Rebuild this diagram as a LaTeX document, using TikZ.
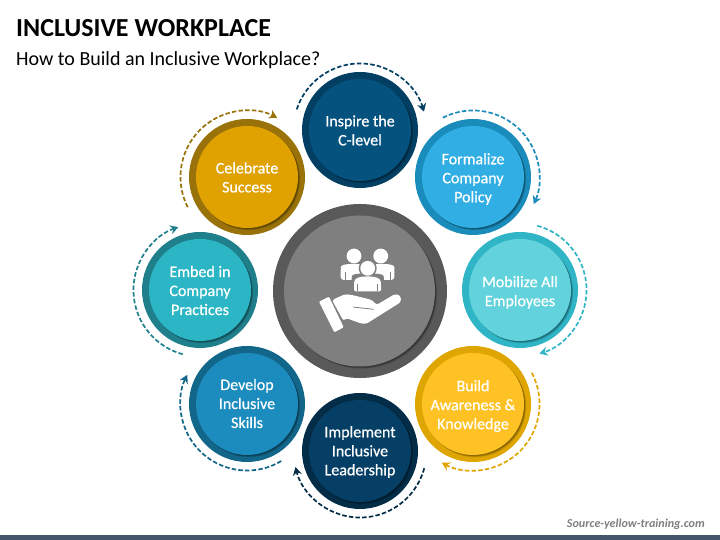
\documentclass[tikz,border=0pt]{standalone}
\usepackage{fontspec}
\setmainfont{Carlito}
\newfontfamily\facefont[FakeBold=0.6]{Carlito}
\usetikzlibrary{arrows.meta}
\definecolor{cInspR}{HTML}{033F62}\definecolor{cInspF}{HTML}{05527F}
\definecolor{cFormR}{HTML}{1A8CBB}\definecolor{cFormF}{HTML}{31AEE4}
\definecolor{cMobR}{HTML}{2FB5C5}\definecolor{cMobF}{HTML}{62D2DC}
\definecolor{cBuildR}{HTML}{DFA500}\definecolor{cBuildF}{HTML}{FFC225}
\definecolor{cImpR}{HTML}{032C47}\definecolor{cImpF}{HTML}{063F66}
\definecolor{cDevR}{HTML}{12668A}\definecolor{cDevF}{HTML}{1B8CBD}
\definecolor{cEmbR}{HTML}{1F808C}\definecolor{cEmbF}{HTML}{2CB6C5}
\definecolor{cCelR}{HTML}{99720A}\definecolor{cCelF}{HTML}{DFA200}
\definecolor{cMidR}{HTML}{595959}\definecolor{cMidF}{HTML}{7F7F7F}
\definecolor{cBar}{HTML}{44546A}
\tikzset{
  x=1pt,y=1pt,
  ringdisc/.style={circle,inner sep=0pt,minimum size=116pt},
  facedisc/.style={circle,inner sep=0pt,minimum size=102pt},
  facetext/.style={inner sep=0pt,text=white,align=center,
    font=\fontsize{16}{19}\selectfont\facefont},
  flowarc/.style={line width=1.7pt,dash pattern=on 4.5pt off 2.2pt,
    -{Stealth[length=8pt,width=9pt,inset=2.5pt]}},
}
\newcommand{\petal}[9]{%
  \node[ringdisc,fill=#4] (#1) at (#2,#3) {};
  \foreach \s/\o in {3.2/.10,2.4/.14,1.6/.18}{
    \fill[black,opacity=\o] (#2+\s*.7,#3-\s*.7) circle (51);
  }
  \node[facedisc,fill=#5] (#1Face) at (#2,#3) {};
  \node[facetext] (#1Text) at (#2,#3-#9) {#6};
  \draw[flowarc,#4] (#1.center) ++(#7:66.5) arc[start angle=#7,end angle=#8,radius=66.5];
}
\begin{document}
\begin{tikzpicture}
\useasboundingbox (0,0) rectangle (720,540);
\fill[cBar] (0,0) rectangle (720,5);
\node[anchor=base west,inner sep=0pt,font=\fontsize{26}{30}\selectfont\bfseries] (title) at (16,503) {INCLUSIVE WORKPLACE};
\node[anchor=base west,inner sep=0pt,font=\fontsize{20}{24}\selectfont] (subtitle) at (16,474.5) {How to Build an Inclusive Workplace?};
\node[anchor=base east,inner sep=0pt,text=cMidF,font=\fontsize{12.1}{14}\selectfont\bfseries\itshape] (source) at (705,12) {Source-yellow-training.com};

\petal{inspire}{360}{410}{cInspR}{cInspF}{Inspire the\\C-level}{162}{16}{0.4}
\petal{formalize}{473}{363}{cFormR}{cFormF}{Formalize\\Company\\Policy}{117}{-24}{2}
\petal{mobilize}{520}{250}{cMobR}{cMobF}{Mobilize All\\Employees}{75}{-73}{2.4}
\petal{build}{473}{136}{cBuildR}{cBuildF}{Build\\Awareness \&\\Knowledge}{28}{-118}{2}
\petal{implement}{360}{89}{cImpR}{cImpF}{Implement\\Inclusive\\Leadership}{-15}{-166}{1}
\petal{develop}{247}{136}{cDevR}{cDevF}{Develop\\Inclusive\\Skills}{-59}{-206}{-0.5}
\petal{embed}{200}{250}{cEmbR}{cEmbF}{Embed in\\Company\\Practices}{255}{109}{0.5}
\petal{celebrate}{247}{363}{cCelR}{cCelF}{Celebrate\\Success}{207}{63}{0.4}

% centre
\node[circle,inner sep=0pt,minimum size=174pt,fill=cMidR] (hub) at (360,249) {};
\foreach \s/\o in {3.2/.10,2.4/.14,1.6/.18}{
  \fill[black,opacity=\o] (359.5+\s*.7,249-\s*.7) circle (75.5);
}
\node[circle,inner sep=0pt,minimum size=151pt,fill=cMidF] (hubFace) at (359.5,249) {};

\begin{scope}[white]
  \fill (354,284) circle (7.4);
  \fill (380.7,284) circle (7.4);
  \fill[rounded corners=3pt] (340.7,260) -- (340.7,270) .. controls (341,275) and (346,276) .. (354,276)
     .. controls (362,276) and (367,275) .. (367,270) -- (367,260) -- cycle;
  \fill[rounded corners=3pt] (367,260) -- (367,270) .. controls (368,275) and (373,276) .. (381,276)
     .. controls (389,276) and (394.3,275) .. (394.3,270) -- (394.3,260) -- cycle;
  \fill[cMidF] (367.7,271.7) circle (9);
  \fill[cMidF,rounded corners=4pt] (351.5,246) -- (351.5,260) .. controls (352,266) and (359,266.5) .. (367.7,266.5)
     .. controls (376,266.5) and (383.5,266) .. (384,260) -- (384,246) -- cycle;
  \fill (367.7,271.7) circle (7.4);
  \fill[rounded corners=2pt] (354,248.5) -- (354,256) .. controls (354.5,262) and (360,263.5) .. (367.5,263.5)
     .. controls (375,263.5) and (380.5,262) .. (381,256) -- (381,248.5) -- cycle;
  \draw[cMidF,line width=.6pt] (357.5,248.5) -- (357.5,256) (377.5,248.5) -- (377.5,256);
  \draw[cMidF,line width=.6pt] (345,260) -- (345,268) (390,260) -- (390,268);
  \fill[rounded corners=1pt] (319,238.3) -- (329,243.3) -- (343.7,212.7) -- (334.3,207.7) -- cycle;
  \fill[rounded corners=2.5pt] (332,240) -- (345,245.8) -- (352,245) -- (372,240) -- (376.5,235) -- (395,246)
     -- (400.5,244.5) -- (401,238) -- (366,216) -- (361,216.5) -- (346,222) -- (343.5,219) -- cycle;
  \draw[cMidF,line width=.8pt,line cap=round] (353.5,232.9) -- (373.5,230.7);
\end{scope}
\end{tikzpicture}
\end{document}
